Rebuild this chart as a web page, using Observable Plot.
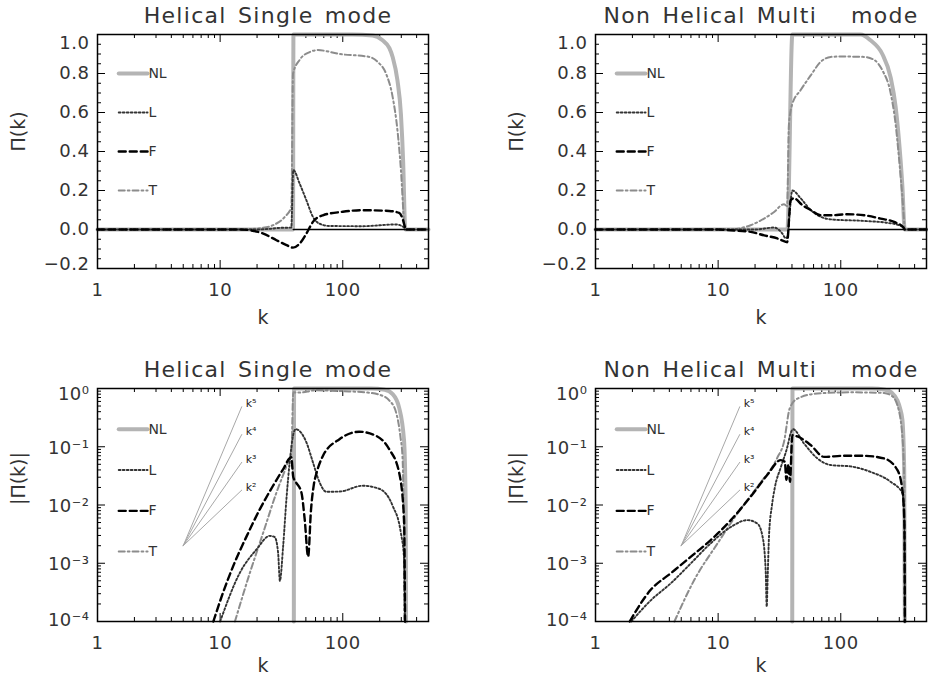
<!DOCTYPE html>
<html><head><meta charset="utf-8">
<script src="https://cdn.jsdelivr.net/npm/d3@7"></script>
<script src="https://cdn.jsdelivr.net/npm/@observablehq/plot@0.6"></script>
<style>
body{margin:0;background:#fff;}
#fig{position:relative;width:928px;height:677px;overflow:hidden;background:#fff;}
#fig svg{position:absolute;}
#fig g[font-size="22"] text{letter-spacing:1.3px;word-spacing:3px;}
#fig g[font-size="18"] text{letter-spacing:0.5px;}
</style></head><body><div id="fig"></div>
<script>
// ---------------- data ----------------
const titles = ["Helical Single mode", "Non Helical Multi\u00a0\u00a0 mode"];
const seriesNames = ["NL", "L", "F", "T"];
const xTickValues = [1, 10, 100];
const yLinTickValues = [-0.2, 0, 0.2, 0.4, 0.6, 0.8, 1.0];
const yLogTickValues = [1e-4, 1e-3, 1e-2, 1e-1, 1];
const guideLabels = ["k⁵", "k⁴", "k³", "k²"];
const guideStart = [5, 0.002];
const guideEnds = [[15, 0.486], [15, 0.162], [15, 0.054], [15, 0.018]];

// Helical single mode, linear Π(k)
const hsTopNL = [[1,0],[39.3,0],[39.6,1.0],[120,1.0],[175,0.995],[211,0.97],[240,0.93],[255,0.885],[279,0.765],[298,0.59],[311,0.34],[322,0.013],[325,0],[500,0]];
const hsTopL = [[1,0],[20,0],[25,0.003],[30,0.008],[38,0.01],[39.5,0.305],[44.5,0.235],[50.5,0.15],[57.1,0.065],[64.5,0.03],[78,0.018],[145,0.017],[271,0.026],[317,0.01],[322,0],[500,0]];
const hsTopF = [[1,0],[14.6,0],[18,-0.005],[22.5,-0.021],[28.8,-0.055],[34.8,-0.08],[39.3,-0.093],[44.5,-0.072],[50.5,-0.021],[57.1,0.039],[68.8,0.073],[100,0.091],[145,0.099],[239,0.095],[288,0.085],[307,0.056],[322,0.01],[325,0],[500,0]];
const hsTopT = [[1,0],[15,0],[22,0.008],[27,0.022],[33.7,0.065],[38.1,0.115],[39.3,0.8],[44.5,0.87],[53.7,0.91],[62.7,0.92],[94,0.9],[165,0.885],[192,0.86],[225,0.8],[255,0.68],[279,0.51],[298,0.305],[317,0.032],[322,0],[500,0]];
const hsTopZero = [[39.5,0],[322,0]];

// Non helical multi mode, linear Π(k)
const nmTopNL = [[1,0],[36.7,0],[40.3,1.0],[145,1.0],[175,0.97],[218,0.9],[255,0.78],[280,0.63],[298,0.46],[318,0.22],[332,0],[500,0]];
const nmTopL = [[1,0],[20,0],[28.6,0.01],[33.4,-0.021],[35.6,-0.045],[36.5,-0.04],[40.3,0.2],[47.1,0.16],[56.8,0.1],[68.6,0.065],[82.8,0.052],[155,0.044],[240,0.034],[298,0.022],[325,0.008],[332,0],[500,0]];
const nmTopF = [[1,0],[10,0],[12.7,-0.004],[18.4,-0.012],[23.7,-0.03],[30.4,-0.046],[35.6,-0.063],[36.5,-0.065],[39,0.15],[41.5,0.16],[48.6,0.125],[56.8,0.1],[68.6,0.073],[82.8,0.073],[113,0.078],[155,0.073],[211,0.056],[272,0.039],[325,0.01],[332,0],[500,0]];
const nmTopT = [[1,0],[12,0],[18.4,0.022],[23.7,0.056],[28.6,0.09],[34.4,0.13],[36.5,0.12],[37.8,0.54],[40.3,0.645],[47.1,0.715],[56.8,0.79],[68.6,0.86],[82.8,0.885],[100,0.887],[155,0.885],[187,0.87],[218,0.817],[255,0.7],[280,0.54],[298,0.37],[318,0.167],[335,0],[500,0]];
const nmTopZero = [[38,0],[330,0]];

// Helical single mode, |Π(k)|
const hsBotNL = [[39.9,1e-4],[40.1,1.0],[170,1.0],[220,0.95],[255,0.8],[288,0.47],[316,0.127],[326,0.009],[328,1e-4]];
const hsBotL = [[10,1e-4],[14.5,6.9e-4],[19.9,1.75e-3],[25.4,2.95e-3],[27.9,2.8e-3],[29.7,1.5e-3],[30.7,5e-4],[32.6,1.9e-3],[34.8,0.0135],[37,0.057],[39.3,0.155],[41.3,0.2],[50.5,0.119],[57.1,0.054],[64.7,0.0245],[73.3,0.0169],[94,0.017],[145,0.0214],[198,0.019],[255,0.0097],[297,3.4e-3],[316,1.2e-3],[322,1e-4]];
const hsBotF = [[8.8,1e-4],[10.6,3.2e-4],[12.8,9e-4],[16.5,2.95e-3],[21.1,8.5e-3],[27,0.0214],[32.6,0.041],[38,0.066],[39.5,0.03],[41.3,0.025],[46,0.0164],[48.9,5.7e-3],[52.2,1.3e-3],[55,0.008],[58,0.022],[61,0.035],[69,0.07],[94,0.135],[136,0.181],[186,0.155],[239,0.091],[288,0.036],[316,0.0057],[322,1e-4]];
const hsBotT = [[13.2,1e-4],[17.5,6.9e-4],[22.5,3.4e-3],[28.8,0.0164],[34.8,0.047],[38.1,0.08],[39.5,0.86],[44.5,0.85],[60,0.93],[100,0.9],[160,0.85],[200,0.78],[240,0.62],[271,0.4],[295,0.15],[307,0.066],[315,0.0027],[318,1e-4]];

// Non helical multi mode, |Π(k)|
const nmBotNL = [[40.2,1e-4],[40.4,1.0],[180,1.0],[230,0.95],[260,0.85],[289,0.63],[305,0.45],[318,0.29],[329,0.04],[333,1e-4]];
const nmBotL = [[1.96,1e-4],[2.82,2.3e-4],[4.1,4.5e-4],[6,1e-3],[8.7,2.2e-3],[12.7,4.2e-3],[17.3,5.5e-3],[20.9,4.8e-3],[23,2.9e-3],[24.4,7.7e-4],[24.9,1.8e-4],[25.3,5e-4],[26,3e-3],[27.5,0.01],[29,0.02],[32.5,0.045],[36.7,0.1],[39,0.17],[40.7,0.2],[50.1,0.114],[64.5,0.063],[82.8,0.0485],[120,0.046],[175,0.037],[255,0.025],[318,0.016],[330,5e-3],[333,1e-4]];
const nmBotF = [[1.9,1e-4],[2.82,3.5e-4],[4.1,6.7e-4],[6,1.3e-3],[8.7,2.5e-3],[12.7,5.5e-3],[18.4,0.0139],[25.2,0.033],[32.4,0.059],[35,0.055],[36,0.027],[37.5,0.05],[38.5,0.025],[40.3,0.158],[44.3,0.15],[56.8,0.107],[73,0.067],[106,0.07],[150,0.07],[225,0.063],[289,0.04],[318,0.018],[330,0.005],[333,1e-4]];
const nmBotT = [[4.4,1e-4],[6.4,5.2e-4],[9.9,2.2e-3],[14.4,7.2e-3],[20.9,0.0206],[30.4,0.065],[34.4,0.12],[38.3,0.45],[44.3,0.67],[64.5,0.82],[120,0.86],[225,0.84],[260,0.75],[289,0.52],[318,0.15],[330,0.02],[333,1e-4]];

// ---------------- styles & layout ----------------
const FONT = "'DejaVu Sans', sans-serif";
const TXT = "#333";
const styles = {
  NL: {stroke: "#b4b4b4", strokeWidth: 4},
  L:  {stroke: "#333", strokeWidth: 1.9, strokeDasharray: "1.8,2.2"},
  F:  {stroke: "#000", strokeWidth: 2.4, strokeDasharray: "7,4"},
  T:  {stroke: "#8c8c8c", strokeWidth: 2, strokeDasharray: "6,3,1.8,3"}
};
const kDomain = [1, 500];
const xMinor = [];
for (const d of [1, 10, 100]) for (let m = 2; m <= 9; m++) if (m * d < 500) xMinor.push(m * d);
const yLinMinor = d3.range(-4, 21).map(i => i * 0.05);
const yLogMinor = [];
for (const d of [1e-4, 1e-3, 1e-2, 1e-1]) for (let m = 2; m <= 9; m++) yLogMinor.push(m * d);
const sup = {"-": "⁻", "0": "⁰", "1": "¹", "2": "²", "3": "³", "4": "⁴", "5": "⁵"};
const logFmt = d => "10" + String(Math.round(Math.log10(d))).split("").map(c => sup[c]).join("");

function ticks(FW, FH, xMaj, xMin, yMaj, yMin) {
  const s = {stroke: "black", strokeWidth: 1};
  return [
    Plot.ruleX(xMaj, {...s, insetTop: FH - 8}),
    Plot.ruleX(xMaj, {...s, insetBottom: FH - 8}),
    Plot.ruleX(xMin, {...s, insetTop: FH - 4}),
    Plot.ruleX(xMin, {...s, insetBottom: FH - 4}),
    Plot.ruleY(yMaj, {...s, insetRight: FW - 8}),
    Plot.ruleY(yMaj, {...s, insetLeft: FW - 8}),
    Plot.ruleY(yMin, {...s, insetRight: FW - 4}),
    Plot.ruleY(yMin, {...s, insetLeft: FW - 4})
  ];
}

function seriesMarks(list) {
  return list.map(([name, data]) => Plot.line(data, {x: d => d[0], y: d => d[1], curve: "monotone-x", ...styles[name]}));
}

function legendMarks(legY) {
  const lx = [1.49, 2.56];
  const m = [];
  seriesNames.forEach((name, i) => {
    m.push(Plot.line(lx.map(x => [x, legY[i]]), {x: d => d[0], y: d => d[1], ...styles[name]}));
  });
  m.push(Plot.text(seriesNames, {x: 2.6, y: (d, i) => legY[i], text: d => d, textAnchor: "start", fontSize: 14, fill: TXT}));
  return m;
}

function panel({top, left, title, series, zero}) {
  const height = top ? 340 : 337;
  const marginTop = top ? 34 : 48;
  const marginBottom = top ? 72 : 56;
  const marginLeft = left ? 97 : 131;
  const marginRight = left ? 36 : 2;
  const FW = 464 - marginLeft - marginRight;
  const FH = height - marginTop - marginBottom;
  const yOpts = top ? {domain: [-0.2, 1.0], axis: null} : {type: "log", domain: [1e-4, 1], axis: null};
  const marks = [];
  marks.push(...ticks(FW, FH, xTickValues, xMinor, top ? yLinTickValues : yLogTickValues, top ? yLinMinor : yLogMinor));
  const axText = {tickSize: 0, fontSize: 18, fill: TXT, label: null};
  marks.push(Plot.axisX(xTickValues, {...axText, tickPadding: 15, tickFormat: d => String(d)}));
  if (top) {
    const fmt = d3.format(".1f");
    marks.push(Plot.axisY(yLinTickValues.slice(1, -1), {...axText, tickPadding: 8, tickFormat: fmt}));
    marks.push(Plot.axisY([1.0], {...axText, tickPadding: 8, tickFormat: fmt, dy: 9}));
    marks.push(Plot.axisY([-0.2], {...axText, tickPadding: 8, tickFormat: fmt, dy: -4}));
  } else {
    marks.push(Plot.axisY(yLogTickValues.slice(1, -1), {...axText, tickPadding: 8, tickFormat: logFmt, dy: 1}));
    marks.push(Plot.axisY([1], {...axText, tickPadding: 8, tickFormat: logFmt, dy: 6}));
    marks.push(Plot.axisY([1e-4], {...axText, tickPadding: 8, tickFormat: logFmt, dy: -1}));
  }
  if (!top) {
    guideEnds.forEach((e) => {
      marks.push(Plot.line([guideStart, e], {x: d => d[0], y: d => d[1], stroke: "#a8a8a8", strokeWidth: 1}));
    });
    marks.push(Plot.text(guideEnds, {x: d => d[0], y: d => d[1], text: (d, i) => guideLabels[i], dx: 4, dy: -3, textAnchor: "start", fontSize: 11, fill: "#222"}));
  }
  marks.push(...seriesMarks(series));
  if (zero) marks.push(Plot.line(zero, {x: d => d[0], y: d => d[1], stroke: "black", strokeWidth: 1.5}));
  marks.push(...legendMarks(top ? [0.8, 0.6, 0.4, 0.2] : [Math.pow(10, -0.7), Math.pow(10, -1.4), Math.pow(10, -2.1), Math.pow(10, -2.8)]));
  marks.push(Plot.frame({stroke: "black", strokeWidth: 1.5}));
  marks.push(Plot.text([title], {frameAnchor: "top", dy: -19, dx: left ? 5 : 0, fontSize: 22, fill: TXT, lineAnchor: "middle"}));
  marks.push(Plot.text(["k"], {frameAnchor: "bottom", dy: top ? 49 : 44, fontSize: 19, fill: TXT, lineAnchor: "middle"}));
  marks.push(Plot.text([top ? "Π(k)" : "|Π(k)|"], {frameAnchor: "left", dx: -79, rotate: -90, fontSize: 19, fill: TXT, lineAnchor: "middle"}));
  const svg = Plot.plot({
    width: 464, height, marginTop, marginBottom, marginLeft, marginRight,
    x: {type: "log", domain: kDomain, axis: null},
    y: yOpts,
    style: {fontFamily: FONT, background: "transparent", overflow: "visible", color: TXT},
    marks
  });
  svg.style.left = (left ? 0 : 464) + "px";
  svg.style.top = (top ? 0 : 340) + "px";
  return svg;
}

const fig = document.getElementById("fig");
fig.appendChild(panel({top: true, left: true, title: titles[0],
  series: [["NL", hsTopNL], ["T", hsTopT], ["L", hsTopL], ["F", hsTopF]], zero: hsTopZero}));
fig.appendChild(panel({top: true, left: false, title: titles[1],
  series: [["NL", nmTopNL], ["T", nmTopT], ["L", nmTopL], ["F", nmTopF]], zero: nmTopZero}));
fig.appendChild(panel({top: false, left: true, title: titles[0],
  series: [["NL", hsBotNL], ["T", hsBotT], ["L", hsBotL], ["F", hsBotF]]}));
fig.appendChild(panel({top: false, left: false, title: titles[1],
  series: [["NL", nmBotNL], ["T", nmBotT], ["L", nmBotL], ["F", nmBotF]]}));
</script>
</body></html>
